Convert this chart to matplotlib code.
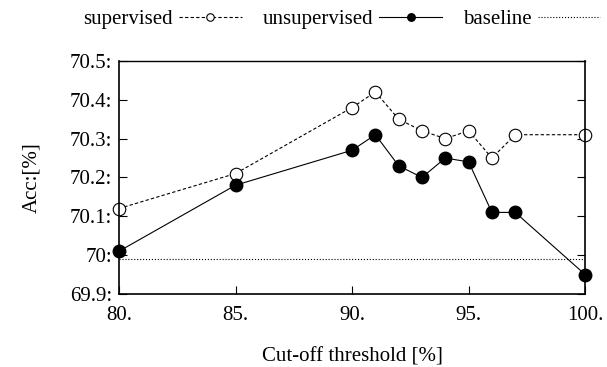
import matplotlib
matplotlib.use("Agg")
import matplotlib.pyplot as plt

# Cut-off threshold values and accuracies
thresholds = [80, 85, 90, 91, 92, 93, 94, 95, 96, 97, 100]
supervised = [70.12, 70.21, 70.38, 70.42, 70.35, 70.32, 70.30, 70.32, 70.25, 70.31, 70.31]
unsupervised = [70.01, 70.18, 70.27, 70.31, 70.23, 70.20, 70.25, 70.24, 70.11, 70.11, 69.95]
baseline = 69.99

x_ticks = [80, 85, 90, 95, 100]
x_labels = ["80.", "85.", "90.", "95.", "100."]
y_ticks = [69.9, 70.0, 70.1, 70.2, 70.3, 70.4, 70.5]
y_labels = ["69.9:", "70:", "70.1:", "70.2:", "70.3:", "70.4:", "70.5:"]

plt.rcParams["font.family"] = ["Liberation Serif", "DejaVu Serif"]

fig = plt.figure(figsize=(6.07, 3.67), dpi=100)
ax = fig.add_axes([0.196, 0.199, 0.768, 0.635])

ax.plot(thresholds, supervised, linestyle="--", dashes=(3, 2), color="black",
        linewidth=0.8, marker="o", markersize=9, markerfacecolor="white",
        markeredgecolor="black", markeredgewidth=0.8, label="supervised", clip_on=False)
ax.plot(thresholds, unsupervised, linestyle="-", color="black", linewidth=0.8,
        marker="o", markersize=9, markerfacecolor="black", label="unsupervised",
        clip_on=False)
ax.plot([80, 100], [baseline, baseline], linestyle=":", color="black",
        linewidth=0.8, label="baseline")

ax.set_xlim(80, 100)
ax.set_ylim(69.9, 70.5)
ax.set_xticks(x_ticks)
ax.set_xticklabels(x_labels)
ax.set_yticks(y_ticks)
ax.set_yticklabels(y_labels)
ax.tick_params(direction="in", length=6, width=0.8, labelsize=15, right=True,
               top=False)
ax.tick_params(axis="x", pad=9)
ax.tick_params(axis="y", pad=5)
for side in ["left", "bottom", "right"]:
    ax.spines[side].set_linewidth(1.2)
ax.spines["top"].set_linewidth(1.0)

ax.set_xlabel("Cut-off threshold [%]", fontsize=15, labelpad=16)
ax.set_ylabel("Acc:[%]", fontsize=15, labelpad=20)

fig.legend(loc="upper center", bbox_to_anchor=(0.563, 1.025), ncol=3,
           frameon=False, markerfirst=False, fontsize=15, handlelength=3.0,
           columnspacing=1.0, handletextpad=0.3, markerscale=0.6)

fig.savefig("out.png", dpi=100)
